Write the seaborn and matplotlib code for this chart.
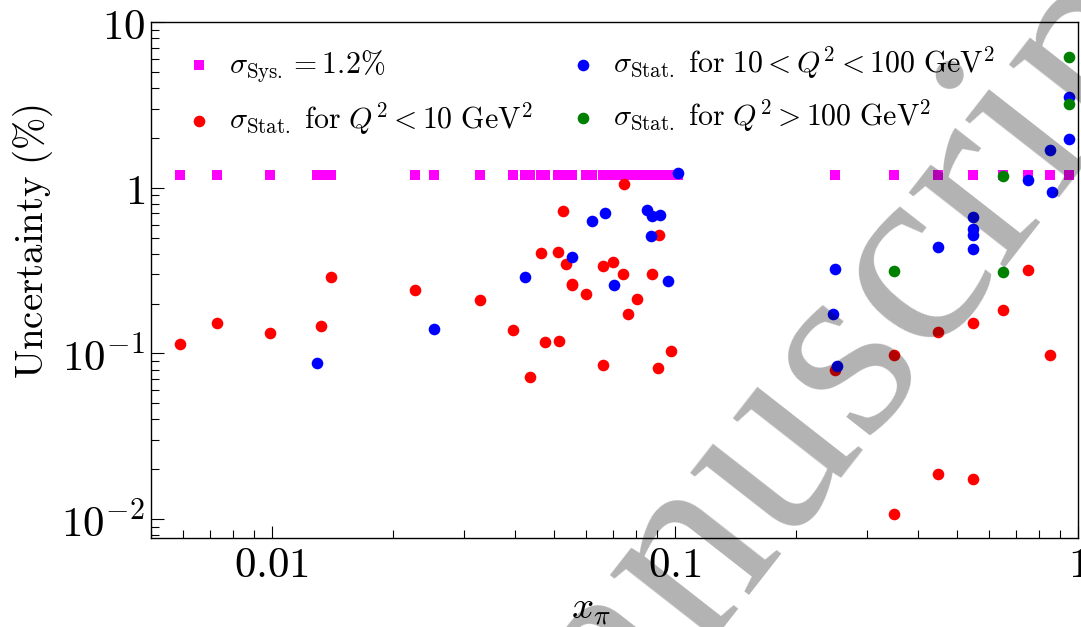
import matplotlib
matplotlib.use("Agg")
import matplotlib.pyplot as plt
import matplotlib.ticker as mticker
import seaborn as sns

# systematic uncertainty, one square per x bin
sys_x = [0.0059, 0.0073, 0.0099, 0.0129, 0.0132, 0.0140, 0.0227, 0.0252, 0.0329,
         0.0396, 0.0424, 0.0437, 0.0465, 0.0476, 0.0513, 0.0526, 0.0535, 0.0555,
         0.0603, 0.0623, 0.0662, 0.0670, 0.0700, 0.0705, 0.0741, 0.0748, 0.0766,
         0.0804, 0.0851, 0.0875, 0.0878, 0.0915, 0.0962, 0.0980, 0.1020,
         0.25, 0.35, 0.45, 0.55, 0.65, 0.75, 0.85, 0.95]
sys_y = [1.2] * len(sys_x)

# statistical uncertainty, Q^2 < 10 GeV^2
low_x = [0.0059, 0.0073, 0.0099, 0.0132, 0.0140, 0.0227, 0.0329, 0.0396, 0.0476,
         0.0437, 0.0465, 0.0748, 0.0526, 0.0915, 0.0513, 0.0535, 0.0661, 0.0700,
         0.0741, 0.0875, 0.0554, 0.0556, 0.0603, 0.0804, 0.0766, 0.0515, 0.0980,
         0.0662, 0.0910, 0.75, 0.65, 0.55, 0.45, 0.35, 0.25, 0.85, 0.45, 0.55, 0.35]
low_y = [0.114, 0.152, 0.133, 0.147, 0.291, 0.242, 0.211, 0.138, 0.118,
         0.0717, 0.402, 1.057, 0.724, 0.519, 0.412, 0.345, 0.339, 0.358,
         0.302, 0.303, 0.264, 0.260, 0.227, 0.214, 0.174, 0.119, 0.103,
         0.085, 0.082, 0.321, 0.182, 0.153, 0.134, 0.098, 0.079, 0.098, 0.0187, 0.0175, 0.0107]

# statistical uncertainty, 10 < Q^2 < 100 GeV^2
mid_x = [0.0129, 0.0252, 0.0424, 0.1020, 0.0851, 0.0878, 0.0917, 0.0670, 0.0623,
         0.0873, 0.0555, 0.0705, 0.0962, 0.25, 0.247, 0.252, 0.45, 0.55, 0.55,
         0.549, 0.55, 0.75, 0.86, 0.85, 0.95, 0.95]
mid_y = [0.088, 0.141, 0.290, 1.22, 0.737, 0.678, 0.685, 0.704, 0.630,
         0.512, 0.383, 0.258, 0.274, 0.324, 0.173, 0.084, 0.437, 0.666, 0.566,
         0.519, 0.427, 1.117, 0.937, 1.678, 3.55, 1.98]

# statistical uncertainty, Q^2 > 100 GeV^2
high_x = [0.35, 0.65, 0.65, 0.95, 0.95]
high_y = [0.314, 1.18, 0.309, 6.13, 3.21]

x_ticks = [0.01, 0.1, 1]
x_tick_labels = ["$0.01$", "$0.1$", "$1$"]
y_ticks = [0.01, 0.1, 1, 10]
y_tick_labels = ["$10^{-2}$", "$10^{-1}$", "$1$", "$10$"]

plt.rcParams["mathtext.fontset"] = "cm"
plt.rcParams["font.family"] = ["DejaVu Serif"]

fig = plt.figure(figsize=(10.81, 6.27), dpi=100)
ax = fig.add_axes([0.1394, 0.1419, 0.8578, 0.823])

sns.scatterplot(x=sys_x, y=sys_y, color="#ff00ff", marker="s", s=62, linewidth=0,
                label=r"$\sigma_{\rm Sys.} = 1.2\%$", ax=ax, zorder=2)
sns.scatterplot(x=low_x, y=low_y, color="#ff0000", marker="o", s=70, linewidth=0,
                label=r"$\sigma_{\rm Stat.}\ {\rm for}\ Q^2 < 10\ {\rm GeV}^2$", ax=ax, zorder=3)
sns.scatterplot(x=mid_x, y=mid_y, color="#0000ff", marker="o", s=70, linewidth=0,
                label=r"$\sigma_{\rm Stat.}\ {\rm for}\ 10 < Q^2 < 100\ {\rm GeV}^2$", ax=ax, zorder=4)
sns.scatterplot(x=high_x, y=high_y, color="#008000", marker="o", s=70, linewidth=0,
                label=r"$\sigma_{\rm Stat.}\ {\rm for}\ Q^2 > 100\ {\rm GeV}^2$", ax=ax, zorder=5)

ax.set_xscale("log")
ax.set_yscale("log")
ax.set_xlim(0.005, 1.0)
ax.set_ylim(0.0077, 10)
ax.set_xticks(x_ticks, x_tick_labels)
ax.set_yticks(y_ticks, y_tick_labels)
ax.xaxis.set_minor_locator(mticker.LogLocator(subs=range(2, 10)))
ax.yaxis.set_minor_locator(mticker.LogLocator(subs=range(2, 10)))
ax.xaxis.set_minor_formatter(mticker.NullFormatter())
ax.yaxis.set_minor_formatter(mticker.NullFormatter())
ax.tick_params(which="both", direction="in", top=False, right=False, width=0.8,
               labelsize=31, pad=4)
ax.tick_params(which="major", length=9)
ax.tick_params(which="minor", length=6)
for sp in ax.spines.values():
    sp.set_linewidth(1.0)

ax.set_xlabel(r"$x_\pi$", fontsize=28)
ax.set_ylabel(r"${\rm Uncertainty\ (\%)}$", fontsize=28)
ax.xaxis.set_label_coords(0.475, -0.10)
ax.yaxis.set_label_coords(-0.103, 0.575)

ax.legend(loc="upper left", bbox_to_anchor=(0.036, 0.957), ncol=2, frameon=False,
          fontsize=21.5, handlelength=1.0, handletextpad=0.5, columnspacing=1.2,
          labelspacing=0.55, borderpad=0, borderaxespad=0)

# watermark from the source page
fig.text(0.744, 0.343, "Manuscript", rotation=52, rotation_mode="anchor",
         ha="center", va="center", fontsize=191, family="Liberation Serif",
         color="black", alpha=0.3, zorder=10)

fig.savefig("out.png", dpi=100)
